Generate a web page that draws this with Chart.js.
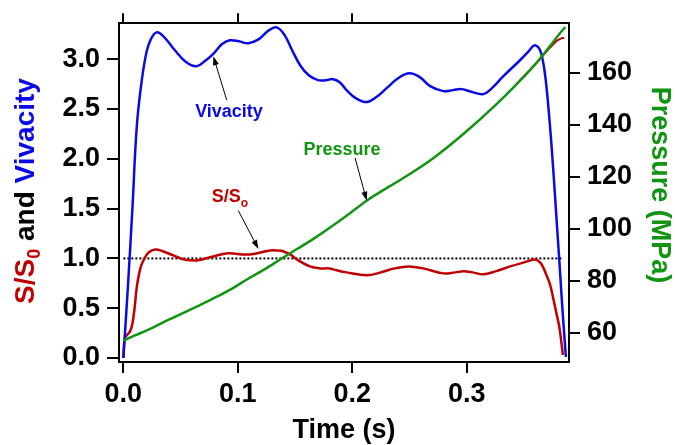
<!DOCTYPE html>
<html>
<head>
<meta charset="utf-8">
<script src="https://cdn.jsdelivr.net/npm/chart.js@4"></script>
<style>
  html, body { margin: 0; padding: 0; background: #fff; }
</style>
</head>
<body>
<canvas id="myChart" width="675" height="445"></canvas>
<script>
// vivacity vs time (s)
var vivTime = [0.000, 0.004, 0.008, 0.0117, 0.016, 0.0204, 0.024, 0.029, 0.035, 0.045,
  0.055, 0.064, 0.071, 0.079, 0.086, 0.093, 0.101, 0.109, 0.118, 0.127,
  0.134, 0.141, 0.147, 0.155, 0.162, 0.170, 0.177, 0.183, 0.189, 0.195,
  0.203, 0.2126, 0.221, 0.230, 0.240, 0.250, 0.259, 0.268, 0.2795, 0.288,
  0.2955, 0.305, 0.3144, 0.322, 0.332, 0.3465, 0.354, 0.359, 0.3625, 0.365,
  0.368, 0.3705, 0.3727, 0.3755, 0.3785, 0.381, 0.3838, 0.3866];
var vivacity = [0.00, 0.72, 1.52, 2.32, 2.78, 3.08, 3.20, 3.27, 3.23, 3.09,
  2.97, 2.93, 2.98, 3.06, 3.15, 3.19, 3.18, 3.16, 3.20, 3.29,
  3.32, 3.24, 3.10, 2.93, 2.84, 2.79, 2.79, 2.80, 2.77, 2.69,
  2.61, 2.57, 2.62, 2.71, 2.81, 2.86, 2.82, 2.73, 2.68, 2.69,
  2.70, 2.67, 2.65, 2.71, 2.83, 2.99, 3.08, 3.14, 3.12, 3.06,
  2.88, 2.62, 2.33, 1.90, 1.38, 0.95, 0.45, 0.01];

// S/S0 vs time (s)
var ratioTime = [0.000, 0.0012, 0.003, 0.006, 0.008, 0.010, 0.0117, 0.014, 0.016, 0.019,
  0.022, 0.0277, 0.035, 0.0437, 0.053, 0.064, 0.072, 0.0816, 0.090, 0.096,
  0.1035, 0.1107, 0.120, 0.128, 0.134, 0.140, 0.1456, 0.153, 0.163, 0.172,
  0.180, 0.1834, 0.195, 0.2126, 0.225, 0.237, 0.249, 0.262, 0.2795, 0.290,
  0.297, 0.305, 0.3144, 0.325, 0.338, 0.350, 0.3596, 0.363, 0.3654, 0.369,
  0.3727, 0.3755, 0.3785, 0.381, 0.384];
var ratio = [0.00, 0.20, 0.23, 0.27, 0.35, 0.52, 0.71, 0.86, 0.94, 1.01,
  1.06, 1.09, 1.07, 1.03, 0.99, 0.98, 1.00, 1.03, 1.05, 1.05,
  1.04, 1.04, 1.06, 1.08, 1.08, 1.07, 1.04, 0.98, 0.92, 0.90,
  0.90, 0.89, 0.86, 0.83, 0.86, 0.90, 0.92, 0.90, 0.85, 0.86,
  0.87, 0.86, 0.84, 0.87, 0.92, 0.96, 0.99, 0.97, 0.94, 0.85,
  0.74, 0.60, 0.44, 0.30, 0.03];

// pressure (MPa) vs time (s)
var presTime = [0.000, 0.010, 0.022, 0.036, 0.051, 0.065, 0.080, 0.095, 0.109, 0.124,
  0.138, 0.152, 0.167, 0.180, 0.195, 0.2126, 0.2446, 0.268, 0.297, 0.326,
  0.3436, 0.361, 0.3727, 0.3817, 0.386];
var pressure = [57.0, 59.0, 61.2, 64.3, 67.4, 70.3, 73.5, 77.0, 80.8, 84.6,
  88.5, 92.3, 96.4, 100.3, 105.0, 110.8, 119.5, 126.2, 136.4, 147.9,
  155.6, 163.8, 170.2, 175.3, 177.5];

// second pressure trace, only visible where it leaves the first
var pres2Time = [0.3436, 0.361, 0.3727, 0.3785, 0.3817, 0.385];
var pressure2 = [155.6, 163.8, 169.6, 172.2, 173.0, 173.4];

// reference level S/S0 = 1
var unityTime = [0.0, 0.384];
var unity = [1, 1];

var FONT = '"Liberation Sans", Arial, Helvetica, sans-serif';
var RED = '#c00000';
var BLUE = '#0a0ae6';
var GREEN = '#119411';

Chart.defaults.font.family = FONT;

function toPoints(xs, ys) {
  return xs.map(function (x, i) { return { x: x, y: ys[i] }; });
}

function arrow(ctx, x1, y1, x2, y2) {
  var a = Math.atan2(y2 - y1, x2 - x1), len = 9, w = 3;
  ctx.beginPath();
  ctx.moveTo(x1, y1);
  ctx.lineTo(x2 - len * 0.8 * Math.cos(a), y2 - len * 0.8 * Math.sin(a));
  ctx.stroke();
  ctx.beginPath();
  ctx.moveTo(x2, y2);
  ctx.lineTo(x2 - len * Math.cos(a) + w * Math.sin(a), y2 - len * Math.sin(a) - w * Math.cos(a));
  ctx.lineTo(x2 - len * Math.cos(a) - w * Math.sin(a), y2 - len * Math.sin(a) + w * Math.cos(a));
  ctx.closePath();
  ctx.fill();
}

// text made of differently coloured pieces, left to right from x on baseline y
function runWidth(ctx, parts) {
  var w = 0;
  parts.forEach(function (p) {
    ctx.font = 'bold ' + p.size + 'px ' + FONT;
    w += ctx.measureText(p.text).width;
  });
  return w;
}
function drawRun(ctx, parts, x, y) {
  parts.forEach(function (p) {
    ctx.font = 'bold ' + p.size + 'px ' + FONT;
    ctx.fillStyle = p.color;
    ctx.fillText(p.text, x, y + (p.dy || 0));
    x += ctx.measureText(p.text).width;
  });
}

// callouts, in data units of the time axis and the left axis
var notes = [
  { parts: [{ text: 'Vivacity', size: 18, color: BLUE }], at: [0.0923, 2.49], from: [0.0903, 2.59], to: [0.0786, 3.03] },
  { parts: [{ text: 'Pressure', size: 18, color: GREEN }], at: [0.191, 2.10], from: [0.2024, 2.01], to: [0.2126, 1.58] },
  { parts: [{ text: 'S/S', size: 18, color: RED }, { text: 'o', size: 12, color: RED, dy: 5 }], at: [0.093, 1.63], from: [0.1004, 1.48], to: [0.118, 1.095] }
];

var labelsPlugin = {
  id: 'labels',
  afterDraw: function (chart) {
    var ctx = chart.ctx, sx = chart.scales.x, sy = chart.scales.y;
    ctx.save();
    ctx.textBaseline = 'alphabetic';
    ctx.textAlign = 'left';

    // left axis title in three colours
    var left = [
      { text: 'S/S', size: 28, color: RED },
      { text: '0', size: 18, color: RED, dy: 6 },
      { text: ' and ', size: 28, color: '#000' },
      { text: 'Vivacity', size: 28, color: BLUE }
    ];
    ctx.save();
    ctx.translate(24, 191);
    ctx.rotate(-Math.PI / 2);
    drawRun(ctx, left, -runWidth(ctx, left) / 2, 10);
    ctx.restore();

    // right axis title
    var right = [{ text: 'Pressure (MPa)', size: 27, color: GREEN }];
    ctx.save();
    ctx.translate(662, 185);
    ctx.rotate(Math.PI / 2);
    drawRun(ctx, right, -runWidth(ctx, right) / 2, 9.6);
    ctx.restore();

    // callouts with arrows
    ctx.lineWidth = 1;
    notes.forEach(function (n) {
      var cx = sx.getPixelForValue(n.at[0]), cy = sy.getPixelForValue(n.at[1]);
      drawRun(ctx, n.parts, cx - runWidth(ctx, n.parts) / 2, cy + 6.5);
      ctx.strokeStyle = '#000';
      ctx.fillStyle = '#000';
      arrow(ctx, sx.getPixelForValue(n.from[0]), sy.getPixelForValue(n.from[1]),
        sx.getPixelForValue(n.to[0]), sy.getPixelForValue(n.to[1]));
    });
    ctx.restore();
  }
};

var tickFont = { size: 27, weight: 'bold' };
var edge = { color: '#000', width: 2 };
function marks(len) {
  return { drawOnChartArea: false, color: '#000', lineWidth: 2, tickLength: len };
}

var ctx = document.getElementById('myChart').getContext('2d');
var myChart = new Chart(ctx, {
  type: 'line',
  data: {
    datasets: [{
      label: 'Pressure',
      data: toPoints(presTime, pressure),
      yAxisID: 'y2',
      borderColor: GREEN,
      borderWidth: 2.5,
      cubicInterpolationMode: 'monotone'
    }, {
      label: 'Pressure 2',
      data: toPoints(pres2Time, pressure2),
      yAxisID: 'y2',
      borderColor: RED,
      borderWidth: 2,
      cubicInterpolationMode: 'monotone'
    }, {
      label: 'Vivacity',
      data: toPoints(vivTime, vivacity),
      yAxisID: 'y',
      borderColor: BLUE,
      borderWidth: 2.5,
      tension: 0.4
    }, {
      label: 'S/S0',
      data: toPoints(ratioTime, ratio),
      yAxisID: 'y',
      borderColor: RED,
      borderWidth: 2.5,
      tension: 0.4
    }, {
      label: 'unity',
      data: toPoints(unityTime, unity),
      yAxisID: 'y',
      borderColor: '#000',
      borderWidth: 2,
      borderDash: [2, 2],
      tension: 0
    }]
  },
  options: {
    responsive: false,
    animation: false,
    layout: { padding: 0 },
    elements: {
      point: { radius: 0 },
      line: { fill: false }
    },
    plugins: {
      legend: { display: false },
      tooltip: { enabled: false }
    },
    scales: {
      x: {
        type: 'linear', position: 'bottom', min: -0.0038, max: 0.3893,
        border: edge, grid: marks(11),
        ticks: { stepSize: 0.1, includeBounds: false, padding: 5, color: '#000', font: tickFont,
          maxRotation: 0, autoSkip: false, callback: function (v) { return v.toFixed(1); } },
        title: { display: true, text: 'Time (s)', color: '#000',
          font: { size: 27, weight: 'bold', lineHeight: 1 }, padding: { top: 0, bottom: 1 } },
        afterFit: function (s) { s.height = 83; }
      },
      x2: {
        type: 'linear', position: 'top', min: -0.0038, max: 0.3893,
        border: edge, grid: marks(10),
        ticks: { stepSize: 0.1, includeBounds: false, display: false },
        afterFit: function (s) { s.height = 22; }
      },
      y: {
        type: 'linear', position: 'left', min: -0.04, max: 3.362,
        border: edge, grid: marks(12),
        ticks: { stepSize: 0.5, includeBounds: false, padding: 7, color: '#000', font: tickFont,
          callback: function (v) { return v.toFixed(1); } },
        afterFit: function (s) { s.width = 119; }
      },
      y2: {
        type: 'linear', position: 'right', min: 48.8, max: 179,
        border: edge, grid: marks(11),
        ticks: { stepSize: 20, includeBounds: false, padding: 7, color: '#000', font: tickFont },
        afterFit: function (s) { s.width = 106; }
      }
    }
  },
  plugins: [labelsPlugin]
});
</script>
</body>
</html>
